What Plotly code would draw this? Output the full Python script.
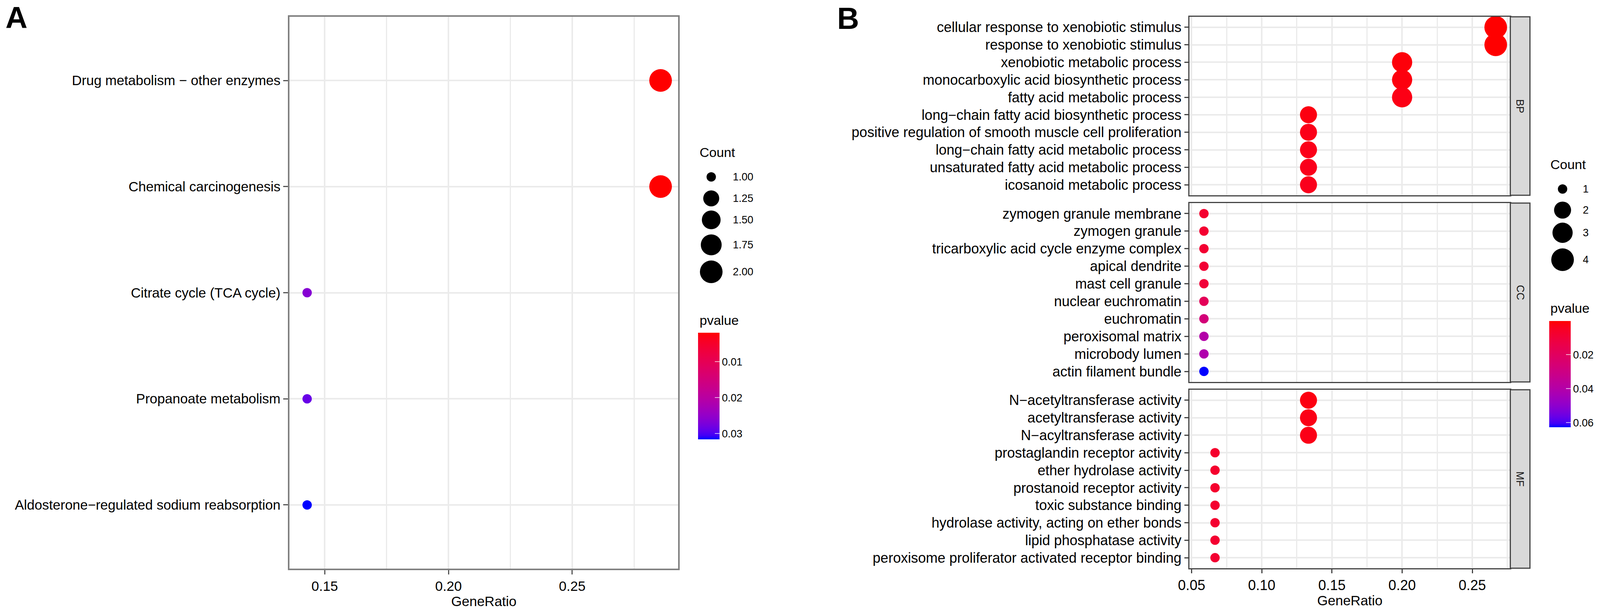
import math
import plotly.graph_objects as go

# ---------------- data ----------------
# Panel A (KEGG), listed top -> bottom
kegg_terms = ["Drug metabolism \u2212 other enzymes", "Chemical carcinogenesis",
              "Citrate cycle (TCA cycle)", "Propanoate metabolism",
              "Aldosterone\u2212regulated sodium reabsorption"]
kegg_ratio = [0.2857, 0.2857, 0.1429, 0.1429, 0.1429]
kegg_count = [2, 2, 1, 1, 1]
kegg_p = [0.0019, 0.0019, 0.0263, 0.0286, 0.0316]

# Panel B (GO), each facet listed top -> bottom
bp_terms = ["cellular response to xenobiotic stimulus", "response to xenobiotic stimulus",
            "xenobiotic metabolic process", "monocarboxylic acid biosynthetic process",
            "fatty acid metabolic process", "long\u2212chain fatty acid biosynthetic process",
            "positive regulation of smooth muscle cell proliferation",
            "long\u2212chain fatty acid metabolic process", "unsaturated fatty acid metabolic process",
            "icosanoid metabolic process"]
bp_ratio = [0.2667, 0.2667, 0.2000, 0.2000, 0.2000, 0.1333, 0.1333, 0.1333, 0.1333, 0.1333]
bp_count = [4, 4, 3, 3, 3, 2, 2, 2, 2, 2]
bp_p = [0.0001, 0.0001, 0.0012, 0.0016, 0.0025, 0.0020, 0.0030, 0.0032, 0.0034, 0.0036]

cc_terms = ["zymogen granule membrane", "zymogen granule", "tricarboxylic acid cycle enzyme complex",
            "apical dendrite", "mast cell granule", "nuclear euchromatin", "euchromatin",
            "peroxisomal matrix", "microbody lumen", "actin filament bundle"]
cc_ratio = [0.0588] * 10
cc_count = [1] * 10
cc_p = [0.0076, 0.0079, 0.0083, 0.0088, 0.0098, 0.0180, 0.0270, 0.0400, 0.0410, 0.0627]

mf_terms = ["N\u2212acetyltransferase activity", "acetyltransferase activity",
            "N\u2212acyltransferase activity", "prostaglandin receptor activity",
            "ether hydrolase activity", "prostanoid receptor activity", "toxic substance binding",
            "hydrolase activity, acting on ether bonds", "lipid phosphatase activity",
            "peroxisome proliferator activated receptor binding"]
mf_ratio = [0.1333, 0.1333, 0.1333, 0.0667, 0.0667, 0.0667, 0.0667, 0.0667, 0.0667, 0.0667]
mf_count = [2, 2, 2, 1, 1, 1, 1, 1, 1, 1]
mf_p = [0.0020, 0.0026, 0.0028, 0.0070, 0.0072, 0.0074, 0.0076, 0.0078, 0.0080, 0.0082]

facet_names = ["BP", "CC", "MF"]

legend_a_counts = [1.0, 1.25, 1.5, 1.75, 2.0]
legend_b_counts = [1, 2, 3, 4]
cbar_a_ticks = [0.01, 0.02, 0.03]
cbar_b_ticks = [0.02, 0.04, 0.06]

# ---------------- styling helpers ----------------
W, H = 4317, 1562
FONT = "Liberation Sans, Arial, sans-serif"


def _lin(c):
    c = c / 255.0
    return c / 12.92 if c <= 0.04045 else ((c + 0.055) / 1.055) ** 2.4


def _unlin(c):
    v = 12.92 * c if c <= 0.0031308 else 1.055 * c ** (1 / 2.4) - 0.055
    return max(0, min(255, round(v * 255)))


def rgb2lab(rgb):
    r, g, b = [_lin(c) for c in rgb]
    X = (0.4124 * r + 0.3576 * g + 0.1805 * b) / 0.95047
    Y = 0.2126 * r + 0.7152 * g + 0.0722 * b
    Z = (0.0193 * r + 0.1192 * g + 0.9505 * b) / 1.08883
    f = lambda t: t ** (1 / 3) if t > 0.008856 else 7.787 * t + 16 / 116
    fx, fy, fz = f(X), f(Y), f(Z)
    return 116 * fy - 16, 500 * (fx - fy), 200 * (fy - fz)


def lab2rgb(lab):
    L, a, b = lab
    fy = (L + 16) / 116
    fx = fy + a / 500
    fz = fy - b / 200
    inv = lambda t: t ** 3 if t ** 3 > 0.008856 else (t - 16 / 116) / 7.787
    X, Y, Z = inv(fx) * 0.95047, inv(fy), inv(fz) * 1.08883
    r = 3.2406 * X - 1.5372 * Y - 0.4986 * Z
    g = -0.9689 * X + 1.8758 * Y + 0.0415 * Z
    bb = 0.0557 * X - 0.2040 * Y + 1.0570 * Z
    return tuple(_unlin(max(0, c)) for c in (r, g, bb))


RED, BLUE = rgb2lab((255, 0, 0)), rgb2lab((0, 0, 255))


def lab_scale(n=31):
    # position s: 0 -> largest p (blue), 1 -> smallest p (red)
    out = []
    for i in range(n):
        s = i / (n - 1)
        t = 1 - s
        lab = tuple(RED[k] + (BLUE[k] - RED[k]) * t for k in range(3))
        r, g, b = lab2rgb(lab)
        out.append([s, f"rgb({r},{g},{b})"])
    return out


def dot_diam(v, vmin, vmax):
    size = 3 + 5 * math.sqrt((v - vmin) / (vmax - vmin))
    return 6.8 * size + 3.6


def py(px):  # pixel row -> paper y
    return 1 - px / H


def px_x(px):
    return px / W


fig = go.Figure()

# ---------------- Panel A ----------------
fig.add_trace(go.Scatter(
    x=kegg_ratio, y=kegg_terms, mode="markers", xaxis="x", yaxis="y",
    marker=dict(size=[dot_diam(c, min(kegg_count), max(kegg_count)) for c in kegg_count],
                color=[-p for p in kegg_p], coloraxis="coloraxis", line=dict(width=0), opacity=1),
    showlegend=False, hoverinfo="skip"))

# ---------------- Panel B facets ----------------
all_counts_b = bp_count + cc_count + mf_count
bmin, bmax = min(all_counts_b), max(all_counts_b)
facets = [(bp_terms, bp_ratio, bp_count, bp_p), (cc_terms, cc_ratio, cc_count, cc_p),
          (mf_terms, mf_ratio, mf_count, mf_p)]
for i, (terms, ratio, count, pv) in enumerate(facets):
    fig.add_trace(go.Scatter(
        x=ratio, y=terms, mode="markers", xaxis=f"x{i + 2}", yaxis=f"y{i + 2}",
        marker=dict(size=[dot_diam(c, bmin, bmax) for c in count],
                    color=[-p for p in pv], coloraxis="coloraxis2", line=dict(width=0), opacity=1),
        showlegend=False, hoverinfo="skip"))


# ---------------- ranges (ggplot-style 5% expansion) ----------------
def expand(vals):
    lo, hi = min(vals), max(vals)
    d = (hi - lo) * 0.05
    return [lo - d, hi + d]


xa_range = expand(kegg_ratio)
xb_range = expand(bp_ratio + cc_ratio + mf_ratio)

tickfont_a = dict(family=FONT, size=35, color="black")
tickfont_b = dict(family=FONT, size=36, color="black")
GRID = "#EBEBEB"

layout = dict(
    autosize=True,
    margin=dict(l=0, r=0, t=0, b=0, pad=0, autoexpand=False),
    paper_bgcolor="white", plot_bgcolor="rgba(0,0,0,0)",
    font=dict(family=FONT, color="black"),
)

# Panel A axes
layout["xaxis"] = dict(
    domain=[px_x(781), px_x(1830)], range=xa_range, anchor="y",
    tickvals=[0.15, 0.20, 0.25], tickformat=".2f", tickfont=tickfont_a,
    showgrid=True, gridcolor=GRID, gridwidth=4,
    minor=dict(tickvals=[0.175, 0.225, 0.275], showgrid=True, gridcolor=GRID, gridwidth=3, ticks=""),
    ticks="outside", ticklen=11, tickwidth=3, tickcolor="#555555",
    showline=True, mirror=True, linecolor="#808080", linewidth=4, zeroline=False)
layout["yaxis"] = dict(
    domain=[py(1456), py(43)], anchor="x", type="category",
    categoryorder="array", categoryarray=kegg_terms[::-1],
    range=[-0.6, len(kegg_terms) - 0.4], tickfont=tickfont_a,
    showgrid=True, gridcolor=GRID, gridwidth=4,
    ticks="outside", ticklen=12, tickwidth=3, tickcolor="#555555",
    showline=True, mirror=True, linecolor="#808080", linewidth=4, zeroline=False)

# Panel B facet axes
facet_px = [(43, 500), (520, 978), (998, 1455)]
for i, (terms, ratio, count, pv) in enumerate(facets):
    k = i + 2
    top, bot = facet_px[i]
    last = (i == 2)
    layout[f"xaxis{k}"] = dict(
        domain=[px_x(3209), px_x(4075)], range=xb_range, anchor=f"y{k}",
        tickvals=[0.05, 0.10, 0.15, 0.20, 0.25], tickformat=".2f", tickfont=tickfont_b,
        showticklabels=last, ticks="outside" if last else "", ticklen=10, tickwidth=3,
        tickcolor="#444444",
        showgrid=True, gridcolor=GRID, gridwidth=3.5,
        minor=dict(tickvals=[0.075, 0.125, 0.175, 0.225, 0.275], showgrid=True,
                   gridcolor=GRID, gridwidth=2.5, ticks=""),
        showline=True, mirror=True, linecolor="#444444", linewidth=3, zeroline=False)
    layout[f"yaxis{k}"] = dict(
        domain=[py(bot), py(top)], anchor=f"x{k}", type="category",
        categoryorder="array", categoryarray=terms[::-1],
        range=[-0.6, len(terms) - 0.4], tickfont=tickfont_b,
        showgrid=True, gridcolor=GRID, gridwidth=3.5,
        ticks="outside", ticklen=10, tickwidth=3, tickcolor="#444444",
        showline=True, mirror=True, linecolor="#444444", linewidth=3, zeroline=False)

# overlay pixel-frame axis for legend keys and free text (transparent background)
layout["xaxis5"] = dict(domain=[0, 1], range=[0, W], visible=False, anchor="y5", fixedrange=True)
layout["yaxis5"] = dict(domain=[0, 1], range=[H, 0], visible=False, anchor="x5", fixedrange=True)

# colour axes (value = -pvalue so small p sits at the top like ggplot's reversed bar)
cs = lab_scale()
layout["coloraxis"] = dict(
    cmin=-max(kegg_p), cmax=-min(kegg_p), colorscale=cs,
    colorbar=dict(x=px_x(1883), xanchor="left", xpad=0, ypad=0,
                  y=py(988.5), yanchor="middle", len=273 / H, lenmode="fraction",
                  thickness=55, thicknessmode="pixels", outlinewidth=0,
                  tickvals=[-t for t in cbar_a_ticks], ticktext=[f"{t:.2f}" for t in cbar_a_ticks],
                  ticks="inside", ticklen=12, tickwidth=2, tickcolor="rgba(255,255,255,0.7)",
                  tickfont=dict(family=FONT, size=27, color="black")))
all_p_b = bp_p + cc_p + mf_p
layout["coloraxis2"] = dict(
    cmin=-max(all_p_b), cmax=-min(all_p_b), colorscale=cs,
    colorbar=dict(x=px_x(4180), xanchor="left", xpad=0, ypad=0,
                  y=py(958), yanchor="middle", len=272 / H, lenmode="fraction",
                  thickness=55, thicknessmode="pixels", outlinewidth=0,
                  tickvals=[-t for t in cbar_b_ticks], ticktext=[f"{t:.2f}" for t in cbar_b_ticks],
                  ticks="inside", ticklen=12, tickwidth=2, tickcolor="rgba(255,255,255,0.7)",
                  tickfont=dict(family=FONT, size=27, color="black")))

# ---------------- size legends ----------------
leg_a_y = [453, 508, 563, 627, 696]
fig.add_trace(go.Scatter(
    x=[1919] * len(legend_a_counts), y=leg_a_y, mode="markers", xaxis="x5", yaxis="y5",
    marker=dict(size=[dot_diam(v, min(kegg_count), max(kegg_count)) for v in legend_a_counts],
                color="rgb(0,0,0)", opacity=1, line=dict(width=0, color="rgb(0,0,0)")),
    showlegend=False, hoverinfo="skip"))
leg_b_y = [484, 538, 596, 665]
fig.add_trace(go.Scatter(
    x=[4216] * len(legend_b_counts), y=leg_b_y, mode="markers", xaxis="x5", yaxis="y5",
    marker=dict(size=[dot_diam(v, bmin, bmax) for v in legend_b_counts],
                color="rgb(0,0,0)", opacity=1, line=dict(width=0, color="rgb(0,0,0)")),
    showlegend=False, hoverinfo="skip"))

ann = []


def txt(x, y, s, size, xanchor="left", bold=False, angle=0, color="black"):
    ann.append(dict(x=x, y=y, xref="x5", yref="y5", text=f"<b>{s}</b>" if bold else s,
                    showarrow=False, xanchor=xanchor, yanchor="middle", textangle=angle,
                    font=dict(family=FONT, size=size, color=color)))


txt(13, 45, "A", 78, bold=True)
txt(2256, 47, "B", 78, bold=True)
txt(1305, 1539, "GeneRatio", 35, xanchor="center")
txt(3642, 1537, "GeneRatio", 35, xanchor="center")

txt(1885, 390, "Count", 34)
for v, yy in zip(legend_a_counts, leg_a_y):
    txt(1975, yy, f"{v:.2f}", 27)
txt(1885, 820, "pvalue", 34)

txt(4181, 421, "Count", 34)
for v, yy in zip(legend_b_counts, leg_b_y):
    txt(4268, yy, f"{v}", 27)
txt(4181, 789, "pvalue", 34)

# strips
shapes = []
for name, (top, bot) in zip(facet_names, facet_px):
    shapes.append(dict(type="rect", xref="x5", yref="y5", x0=4075, x1=4128, y0=top, y1=bot,
                       fillcolor="#D9D9D9", line=dict(color="#444444", width=3), layer="above"))
    txt(4101.5, (top + bot) / 2, name, 27, xanchor="center", angle=90, color="#1A1A1A")

layout["annotations"] = ann
layout["shapes"] = shapes
fig.update_layout(**layout)

fig.write_html(
    "out.html",
    config={"responsive": True, "displayModeBar": False},
    default_width="100%", default_height="100%",
    post_script=("document.documentElement.style.height='100%';"
                 "document.body.style.margin='0';document.body.style.height='100%';"
                 "document.body.style.overflow='hidden';"
                 "Plotly.Plots.resize(document.getElementById('{plot_id}'));"))
